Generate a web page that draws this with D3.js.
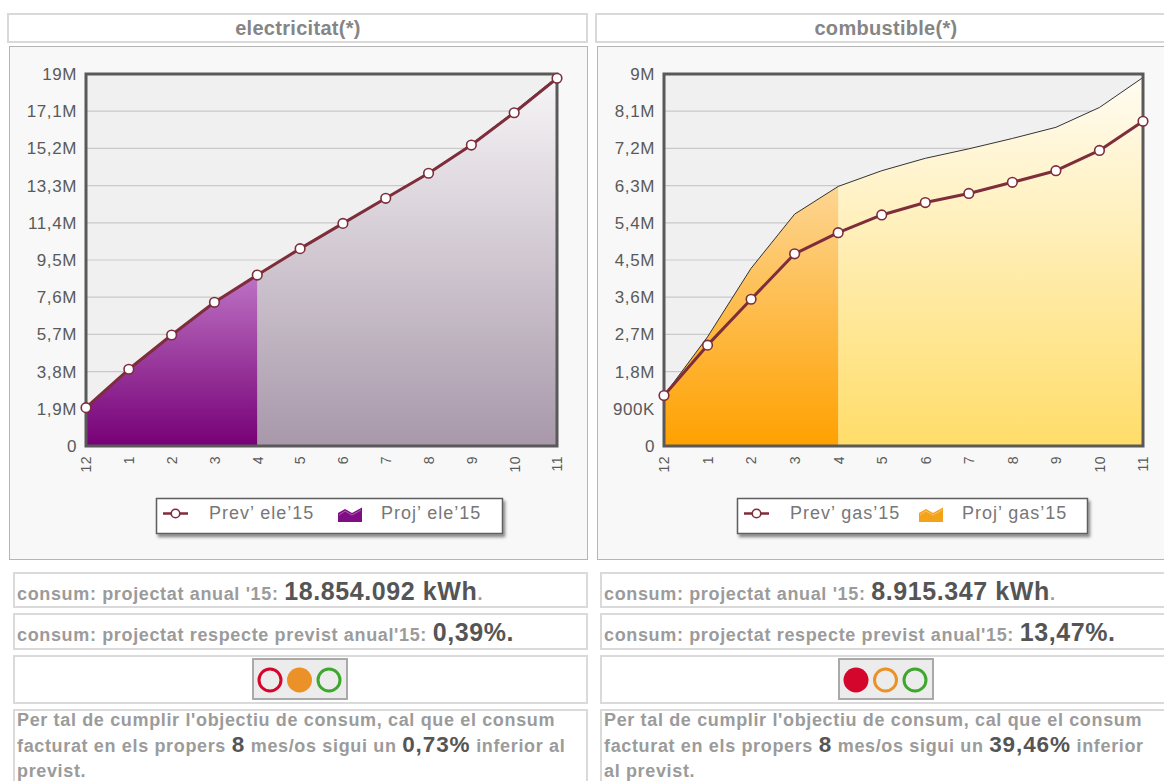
<!DOCTYPE html>
<html>
<head>
<meta charset="utf-8">
<script src="https://cdn.jsdelivr.net/npm/d3@7"></script>
<style>
  body { margin: 0; background: #fff; overflow: hidden; }
  svg { font-family: "Liberation Sans", Arial, sans-serif; display: block; }
</style>
</head>
<body>
<svg id="page" width="1164" height="781"></svg>
<script>
// months of the billing year, first point is december of the previous year
const months = ["12", "1", "2", "3", "4", "5", "6", "7", "8", "9", "10", "11"];
const lastReal = 4; // index of the last invoiced month ("4")

// electricitat
const prevEle = [1960000, 3920000, 5670000, 7340000, 8730000, 10080000, 11370000, 12650000, 13930000, 15370000, 17020000, 18780000];
const projEle = [1950000, 3900000, 5650000, 7320000, 8700000, 10080000, 11380000, 12670000, 13960000, 15410000, 17080000, 18854092];
const eleTicks = [0, 1900000, 3800000, 5700000, 7600000, 9500000, 11400000, 13300000, 15200000, 17100000, 19000000];
const eleTickLabels = ["0", "1,9M", "3,8M", "5,7M", "7,6M", "9,5M", "11,4M", "13,3M", "15,2M", "17,1M", "19M"];

// combustible
const prevGas = [1220000, 2440000, 3550000, 4650000, 5160000, 5590000, 5890000, 6110000, 6380000, 6660000, 7150000, 7857000];
const projGas = [1220000, 2640000, 4300000, 5610000, 6280000, 6660000, 6960000, 7190000, 7440000, 7710000, 8190000, 8915347];
const gasTicks = [0, 900000, 1800000, 2700000, 3600000, 4500000, 5400000, 6300000, 7200000, 8100000, 9000000];
const gasTickLabels = ["0", "900K", "1,8M", "2,7M", "3,6M", "4,5M", "5,4M", "6,3M", "7,2M", "8,1M", "9M"];

const lineColor = "#7e2d3b";

const svg = d3.select("#page");
const defs = svg.append("defs");

const shadow = defs.append("filter").attr("id", "shadow")
    .attr("x", "-10%").attr("y", "-30%").attr("width", "130%").attr("height", "180%");
shadow.append("feDropShadow").attr("dx", 2).attr("dy", 3).attr("stdDeviation", 1.6)
    .attr("flood-color", "#000").attr("flood-opacity", 0.45);

function gradient(id, top, bottom) {
  const lg = defs.append("linearGradient").attr("id", id)
      .attr("x1", 0).attr("y1", 0).attr("x2", 0).attr("y2", 1);
  lg.append("stop").attr("offset", "0%").attr("stop-color", top);
  lg.append("stop").attr("offset", "100%").attr("stop-color", bottom);
}

function drawChart(c) {
  const top = 74, bottom = 446;
  const g = svg.append("g");

  // header
  g.append("rect")
      .attr("x", c.boxX + 1).attr("y", 14).attr("width", 579).attr("height", 28)
      .attr("fill", "#fff").attr("stroke", "#d9d9d9").attr("stroke-width", 2);
  g.append("text")
      .attr("x", c.boxX + 291).attr("y", 35)
      .attr("text-anchor", "middle")
      .attr("font-size", 20).attr("font-weight", "bold").attr("letter-spacing", 0.3)
      .attr("fill", "#858585")
      .text(c.title);

  // panel
  g.append("rect")
      .attr("x", c.boxX + 2.5).attr("y", 46.5).attr("width", 578).attr("height", 513)
      .attr("fill", "#f8f8f8").attr("stroke", "#b5b5b5");

  const x = d3.scalePoint().domain(months).range([c.plotL, c.plotR]);
  const y = d3.scaleLinear().domain([0, c.max]).range([bottom, top]);

  gradient(c.id + "-real", c.realTop, c.realBottom);
  gradient(c.id + "-proj", c.projTop, c.projBottom);

  g.append("rect")
      .attr("x", c.plotL).attr("y", top)
      .attr("width", c.plotR - c.plotL).attr("height", bottom - top)
      .attr("fill", "#f0f0f0");

  // grid
  g.append("g")
      .selectAll("line")
      .data(c.ticks.slice(1, -1))
      .join("line")
      .attr("x1", c.plotL).attr("x2", c.plotR)
      .attr("y1", d => y(d)).attr("y2", d => y(d))
      .attr("stroke", "#c9c9c9").attr("stroke-width", 1.2);

  const pts = months.map((m, i) => ({ m: m, prev: c.prev[i], proj: c.proj[i] }));

  const area = d3.area()
      .x(d => x(d.m))
      .y0(bottom)
      .y1(d => y(d.proj));

  g.append("path")
      .datum(pts.slice(lastReal))
      .attr("d", area)
      .attr("fill", `url(#${c.id}-proj)`);

  g.append("path")
      .datum(pts.slice(0, lastReal + 1))
      .attr("d", area)
      .attr("fill", `url(#${c.id}-real)`);

  g.append("path")
      .datum(pts)
      .attr("d", d3.line().x(d => x(d.m)).y(d => y(d.proj)))
      .attr("fill", "none").attr("stroke", "#333").attr("stroke-width", 1);

  // frame
  g.append("rect")
      .attr("x", c.plotL).attr("y", top)
      .attr("width", c.plotR - c.plotL).attr("height", bottom - top)
      .attr("fill", "none").attr("stroke", "#595959").attr("stroke-width", 3);

  // axes
  const yAxis = g.append("g")
      .attr("transform", `translate(${c.plotL},0)`)
      .call(d3.axisLeft(y).tickValues(c.ticks).tickSize(0).tickPadding(9)
        .tickFormat((d, i) => c.labels[i]));
  yAxis.select(".domain").remove();
  yAxis.selectAll("text")
      .attr("font-family", "Liberation Sans, Arial, sans-serif")
      .attr("font-size", 17).attr("letter-spacing", 0.6).attr("fill", "#5a5a5a");

  const xAxis = g.append("g")
      .attr("transform", `translate(0,${bottom})`)
      .call(d3.axisBottom(x).tickSize(0));
  xAxis.select(".domain").remove();
  xAxis.selectAll("text")
      .attr("font-family", "Liberation Sans, Arial, sans-serif")
      .attr("font-size", 14).attr("letter-spacing", 0.5).attr("fill", "#5a5a5a")
      .attr("transform", "rotate(-90)")
      .attr("text-anchor", "end")
      .attr("x", -10).attr("y", 0).attr("dy", "0.35em");

  // prev line
  g.append("path")
      .datum(pts)
      .attr("d", d3.line().x(d => x(d.m)).y(d => y(d.prev)))
      .attr("fill", "none").attr("stroke", lineColor).attr("stroke-width", 3)
      .attr("stroke-linejoin", "round");

  g.append("g")
      .selectAll("circle")
      .data(pts)
      .join("circle")
      .attr("cx", d => x(d.m)).attr("cy", d => y(d.prev))
      .attr("r", 4.8)
      .attr("fill", "#fff").attr("stroke", lineColor).attr("stroke-width", 1.6);

  // legend
  const lg = g.append("g").attr("transform", `translate(${c.legendX},498)`);
  lg.append("rect")
      .attr("x", 0.5).attr("y", 0.5).attr("width", c.legendW).attr("height", 35)
      .attr("fill", "#fff").attr("stroke", "#5e5e5e").attr("stroke-width", 1.5)
      .attr("filter", "url(#shadow)");
  lg.append("line")
      .attr("x1", 7).attr("x2", 32).attr("y1", 15.5).attr("y2", 15.5)
      .attr("stroke", lineColor).attr("stroke-width", 2.5);
  lg.append("circle")
      .attr("cx", 19.5).attr("cy", 15.5).attr("r", 4.3)
      .attr("fill", "#fff").attr("stroke", lineColor).attr("stroke-width", 1.6);
  lg.append("text")
      .attr("x", 53).attr("y", 21)
      .attr("font-size", 18).attr("letter-spacing", 1).attr("fill", "#777")
      .text(c.prevLabel);
  lg.append("path")
      .attr("d", "M182,15 L189,11 L196,15 L206,9.5 L206,24 L182,24 Z")
      .attr("fill", c.iconColor);
  lg.append("path")
      .attr("d", "M183,17 L189,13 L196,17 L205,12")
      .attr("fill", "none").attr("stroke", "#fff").attr("stroke-opacity", 0.35).attr("stroke-width", 1);
  lg.append("text")
      .attr("x", 225).attr("y", 21)
      .attr("font-size", 18).attr("letter-spacing", 1).attr("fill", "#777")
      .text(c.projLabel);
}

drawChart({
  id: "ele", title: "electricitat(*)", boxX: 7,
  plotL: 86, plotR: 557, max: 19000000,
  ticks: eleTicks, labels: eleTickLabels,
  prev: prevEle, proj: projEle,
  realTop: "#bd72c4", realBottom: "#760076",
  projTop: "#f7f5f7", projBottom: "#a898aa",
  iconColor: "#7f0d84",
  legendX: 156, legendW: 346,
  prevLabel: "Prev’ ele’15", projLabel: "Proj’ ele’15"
});

drawChart({
  id: "gas", title: "combustible(*)", boxX: 595,
  plotL: 664, plotR: 1143, max: 9000000,
  ticks: gasTicks, labels: gasTickLabels,
  prev: prevGas, proj: projGas,
  realTop: "#fdd592", realBottom: "#ffa100",
  projTop: "#fffcf2", projBottom: "#ffdd69",
  iconColor: "#f4a21a",
  legendX: 737, legendW: 350,
  prevLabel: "Prev’ gas’15", projLabel: "Proj’ gas’15"
});

// summary boxes
const summaries = [
  { x: 13, total: "18.854.092 kWh", pct: "0,39%.", lights: ["ring", "fill", "ring"], light0: 270,
    months: "8", target: "0,73%", tail2: " inferior al", line3: "previst." },
  { x: 600, total: "8.915.347 kWh", pct: "13,47%.", lights: ["fill", "ring", "ring"], light0: 856,
    months: "8", target: "39,46%", tail2: " inferior", line3: "al previst." }
];
const lightColors = ["#d4062c", "#ec9128", "#3da82d"];
const small = { size: 18, color: "#9b9b9b", spacing: 0.65 };
const big = { size: 25, color: "#555", spacing: 0.6 };
const mid = { size: 22.5, color: "#555", spacing: 0.9 };

function box(x, y, h) {
  svg.append("rect")
      .attr("x", x + 1).attr("y", y + 1).attr("width", 573).attr("height", h - 2)
      .attr("fill", "#fff").attr("stroke", "#dadada").attr("stroke-width", 2);
}

function richText(x, y, parts, hi) {
  const t = svg.append("text").attr("x", x).attr("y", y)
      .attr("font-weight", "bold").attr("xml:space", "preserve");
  parts.forEach(p => {
    const s = p[1] ? (hi || big) : small;
    t.append("tspan")
        .attr("font-size", s.size).attr("fill", s.color)
        .attr("letter-spacing", s.spacing)
        .text(p[0]);
  });
}

summaries.forEach(s => {
  box(s.x, 572, 36);
  richText(s.x + 4, 600, [["consum: projectat anual '15: ", false], [s.total, true], [".", false]]);

  box(s.x, 613, 37);
  richText(s.x + 4, 641, [["consum: projectat respecte previst anual'15: ", false], [s.pct, true]]);

  box(s.x, 655, 49);
  svg.append("rect")
      .attr("x", s.light0 - 17).attr("y", 659).attr("width", 94).attr("height", 40)
      .attr("fill", "#ececec").attr("stroke", "#a9a9a9").attr("stroke-width", 2);
  svg.append("g")
      .selectAll("circle")
      .data(s.lights)
      .join("circle")
      .attr("cx", (d, i) => s.light0 + i * 29.5).attr("cy", 680)
      .attr("r", d => d === "fill" ? 12.5 : 11)
      .attr("fill", (d, i) => d === "fill" ? lightColors[i] : "none")
      .attr("stroke", (d, i) => d === "fill" ? "none" : lightColors[i])
      .attr("stroke-width", 3);

  box(s.x, 709, 90);
  richText(s.x + 4, 726, [["Per tal de cumplir l'objectiu de consum, cal que el consum", false]]);
  richText(s.x + 4, 752, [["facturat en els propers ", false], [s.months, true], [" mes/os sigui un ", false],
    [s.target, true], [s.tail2, false]], mid);
  richText(s.x + 4, 777, [[s.line3, false]]);
});
</script>
</body>
</html>
